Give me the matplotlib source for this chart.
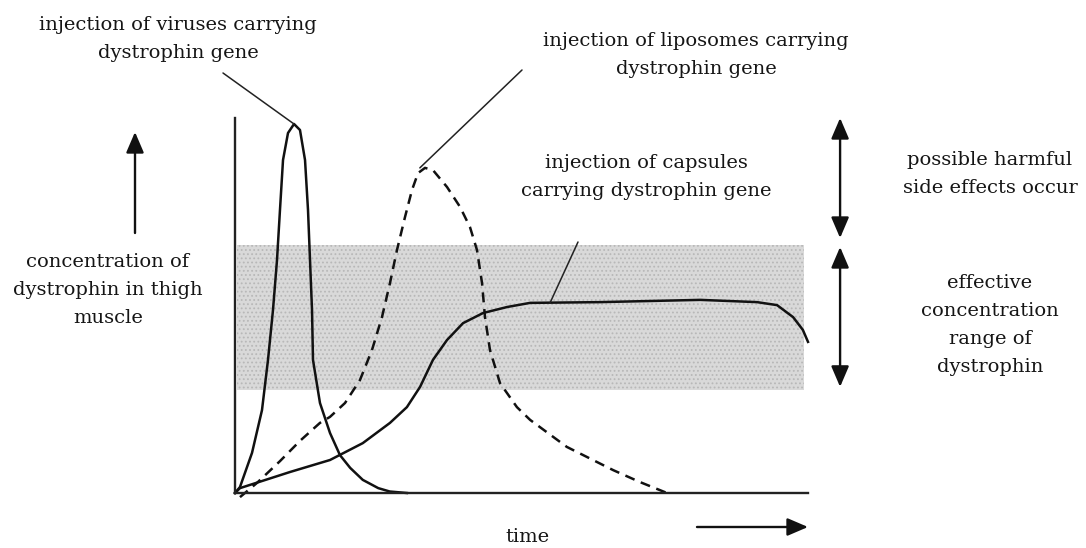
import matplotlib
matplotlib.use('Agg')
import matplotlib.pyplot as plt
import numpy as np

plt.rcParams['font.family'] = 'DejaVu Serif'
plt.rcParams['hatch.linewidth'] = 0.8

# curves (time 0-100, concentration 0-100)
virus_t = [0, 0.87, 2.97, 4.71, 5.76, 6.63, 7.33, 7.85, 8.38, 9.25, 10.3,
           11.34, 12.22, 12.74, 13.09, 13.44, 13.61, 14.83, 16.58, 18.32, 20.1, 22.3, 25.0, 27.0, 30.0]
virus_c = [0, 1.6, 10.7, 22.1, 35.5, 48.8, 62.1, 75.5, 88.8, 96.0, 98.4,
           96.8, 88.8, 75.5, 62.1, 48.8, 35.5, 24.0, 16.0, 10.1, 6.7, 3.5, 1.3, 0.4, 0]

lipo_t = [0.87, 3.84, 7.85, 11.34, 14.83, 16.58, 19.2, 21.8, 23.9, 25.65, 27.05, 28.27, 29.67,
          30.89, 31.94, 33.16, 34.55, 37.0, 39.27, 41.01, 42.23, 43.11, 43.63, 44.5, 46.25,
          49.2, 51.5, 57.9, 66.0, 70.7, 75.4]
lipo_c = [-1.1, 2.7, 8.5, 13.9, 18.7, 20.3, 24.0, 30.1, 38.1, 46.9, 56.0, 64.8, 73.6,
          80.8, 85.3, 86.7, 86.1, 81.6, 76.3, 70.9, 64.8, 56.0, 46.9, 38.1, 29.3,
          22.9, 19.5, 12.3, 6.1, 2.9, 0]

caps_t = [0, 0.87, 9.6, 16.58, 22.3, 27.05, 30.0, 32.3, 34.55, 37.0, 39.8, 43.3, 47.5,
          51.5, 63.7, 81.2, 91.1, 94.6, 97.4, 99.1, 100.0]
caps_c = [0, 1.3, 5.6, 8.8, 13.3, 18.7, 22.9, 28.3, 35.5, 40.8, 45.3, 48.0, 49.6,
          50.7, 50.9, 51.5, 50.9, 50.1, 46.9, 43.5, 40.3]

effective_lo, effective_hi = 27.5, 66.1
harmful_lo, harmful_hi = 68.0, 100.0

W, H = 1086, 548


def fpx(x, y):
    # figure pixel (top-left origin) -> figure fraction
    return x / W, 1 - y / H


fig = plt.figure(figsize=(10.86, 5.48), dpi=100)
ax = fig.add_axes([235 / W, 55 / H, 573 / W, 375 / H])
ax.set_xlim(0, 100)
ax.set_ylim(0, 100)
ax.set_xticks([])
ax.set_yticks([])
for s in ['top', 'right']:
    ax.spines[s].set_visible(False)
for s in ['left', 'bottom']:
    ax.spines[s].set_linewidth(1.7)
    ax.spines[s].set_color('#222222')

# effective concentration band
ax.axhspan(effective_lo, effective_hi, xmin=0.004, xmax=0.993,
           facecolor='#d9d9d9', edgecolor='#b8b8b8', hatch='....', linewidth=0, zorder=0)

line_kw = dict(color='#111111', lw=1.8, solid_joinstyle='round', clip_on=False)
ax.plot(virus_t, virus_c, **line_kw)
ax.plot(lipo_t, lipo_c, linestyle=(0, (4, 2.7)), **line_kw)
ax.plot(caps_t, caps_c, **line_kw)

# leader lines
lead = dict(arrowstyle='-', color='#222222', lw=1.1, shrinkA=0, shrinkB=0)
iv = int(np.argmax(virus_c))
il = int(np.argmax(lipo_c))
ax.annotate('', xy=(virus_t[iv], virus_c[iv]), xytext=fpx(223, 73),
            textcoords='figure fraction', arrowprops=lead, annotation_clip=False)
ax.annotate('', xy=(lipo_t[il] - 0.9, lipo_c[il]), xytext=fpx(522, 70),
            textcoords='figure fraction', arrowprops=lead, annotation_clip=False)
ax.annotate('', xy=(55.0, np.interp(55.0, caps_t, caps_c)), xytext=fpx(578, 242),
            textcoords='figure fraction', arrowprops=lead, annotation_clip=False)

# range arrows on the right
rng = dict(arrowstyle='<|-|>,head_length=0.7,head_width=0.3', color='#111111',
           lw=1.7, shrinkA=0, shrinkB=0, mutation_scale=18)
ax.annotate('', xy=(105.6, harmful_hi), xytext=(105.6, harmful_lo),
            arrowprops=rng, annotation_clip=False)
ax.annotate('', xy=(105.6, effective_hi - 0.5), xytext=(105.6, effective_lo + 0.8),
            arrowprops=rng, annotation_clip=False)

# axis direction arrows
ax_arr = dict(arrowstyle='-|>,head_length=0.7,head_width=0.3', color='#111111',
              lw=1.7, shrinkA=0, shrinkB=0, mutation_scale=18)
fig.add_artist(matplotlib.patches.FancyArrowPatch(
    fpx(135, 233), fpx(135, 132), transform=fig.transFigure, **ax_arr))
fig.add_artist(matplotlib.patches.FancyArrowPatch(
    fpx(697, 527), fpx(808, 527), transform=fig.transFigure, **ax_arr))

txt = dict(ha='center', va='center', fontsize=14, color='#151515', linespacing=1.7)
fig.text(*fpx(178, 39), 'injection of viruses carrying\ndystrophin gene', **txt)
fig.text(*fpx(696, 55), 'injection of liposomes carrying\ndystrophin gene', **txt)
fig.text(*fpx(646, 177), 'injection of capsules\ncarrying dystrophin gene', **txt)
fig.text(*fpx(990, 174), 'possible harmful\nside effects occur', **txt)
fig.text(*fpx(990, 325), 'effective\nconcentration\nrange of\ndystrophin', **txt)
fig.text(*fpx(108, 290), 'concentration of\ndystrophin in thigh\nmuscle', **txt)
fig.text(*fpx(527, 537), 'time', **txt)

fig.savefig('out.png', dpi=100)
plt.close()
